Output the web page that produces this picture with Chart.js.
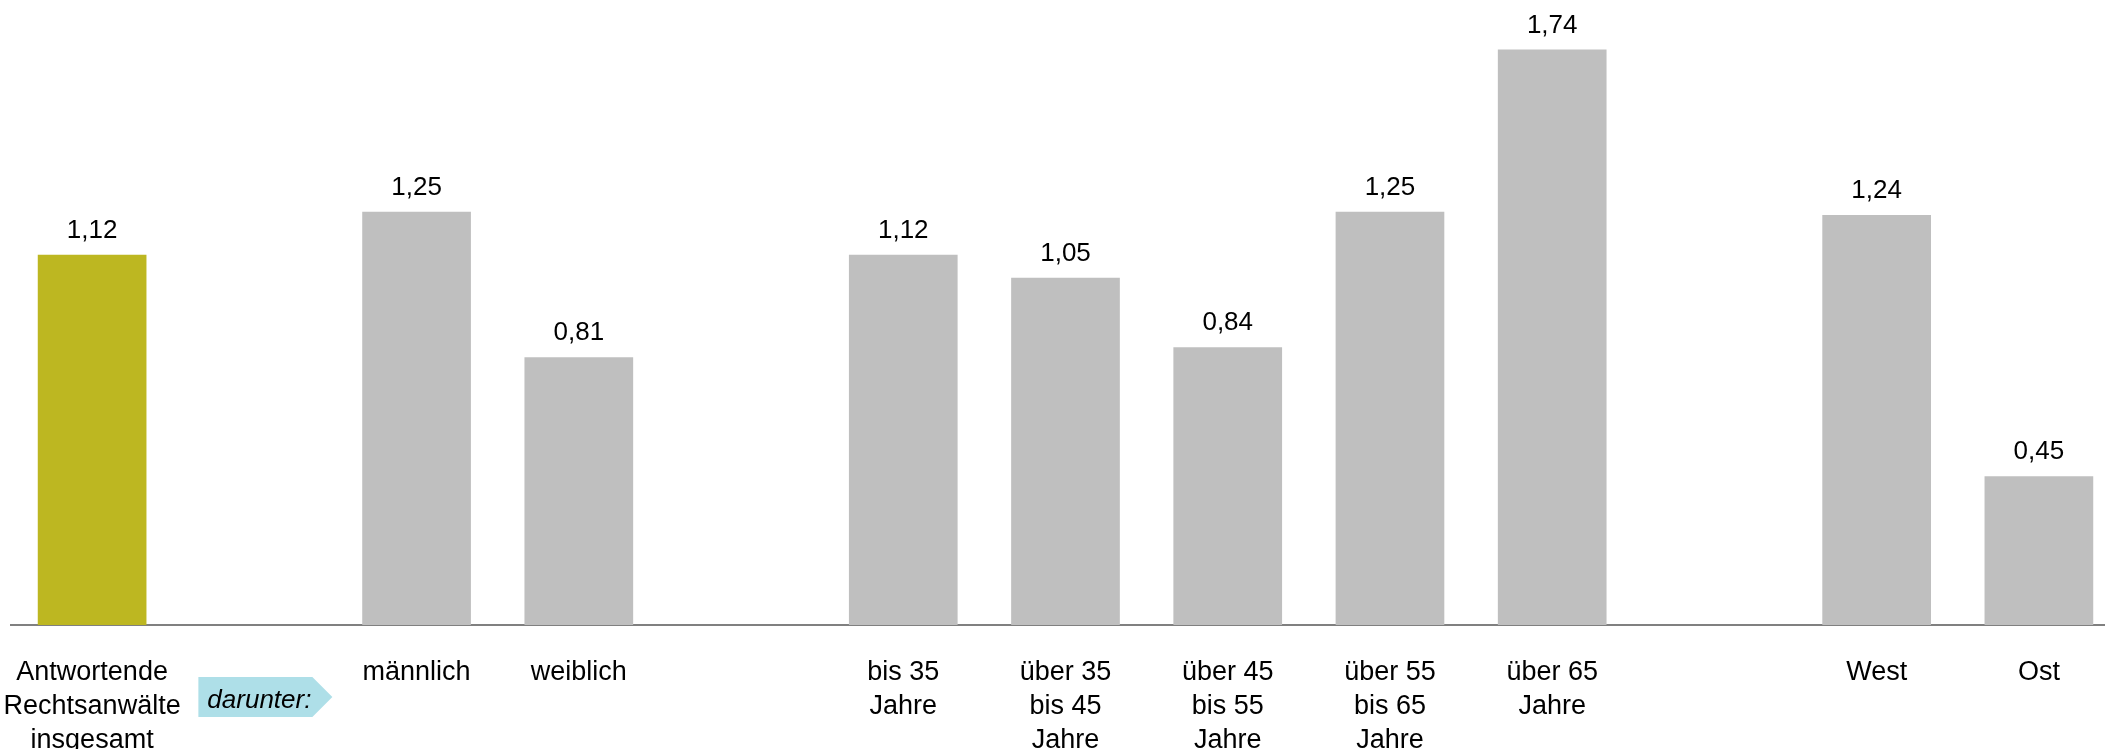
<!DOCTYPE html>
<html>
<head>
<meta charset="utf-8">
<script src="https://cdn.jsdelivr.net/npm/chart.js@4"></script>
<style>
  html, body { margin: 0; padding: 0; background: #fff; overflow: hidden; }
  #wrap { width: 2120px; height: 749px; }
</style>
</head>
<body>
<div id="wrap"><canvas id="barChart"></canvas></div>
<script>
// leere Einträge = Lücken zwischen den Gruppen
const kategorien = [
    ["Antwortende", "Rechtsanwälte", "insgesamt"],
    "",
    "männlich",
    "weiblich",
    "",
    ["bis 35", "Jahre"],
    ["über 35", "bis 45", "Jahre"],
    ["über 45", "bis 55", "Jahre"],
    ["über 55", "bis 65", "Jahre"],
    ["über 65", "Jahre"],
    "",
    "West",
    "Ost"
];
const werte = [1.12, null, 1.25, 0.81, null, 1.12, 1.05, 0.84, 1.25, 1.74, null, 1.24, 0.45];
const farben = ["#BDB721", null, "#BFBFBF", "#BFBFBF", null, "#BFBFBF", "#BFBFBF", "#BFBFBF", "#BFBFBF", "#BFBFBF", null, "#BFBFBF", "#BFBFBF"];
const hinweis = "darunter:";

const schrift = "'Liberation Sans', Arial, sans-serif";

const werteLabels = {
    id: 'werteLabels',
    afterDatasetsDraw(chart) {
        const c = chart.ctx;
        const meta = chart.getDatasetMeta(0);
        c.save();
        c.font = "26px " + schrift;
        c.fillStyle = "#000";
        c.textAlign = "center";
        c.textBaseline = "alphabetic";
        meta.data.forEach((bar, i) => {
            if (werte[i] == null) return;
            c.fillText(werte[i].toFixed(2).replace('.', ','), bar.x, bar.y - 17);
        });
        c.restore();
    }
};

const darunterPfeil = {
    id: 'darunterPfeil',
    afterDraw(chart) {
        const c = chart.ctx;
        const x0 = chart.scales.x.getPixelForTick(1) - 56;
        const y0 = 677;
        c.save();
        c.fillStyle = "#AEDFE8";
        c.beginPath();
        c.moveTo(x0, y0);
        c.lineTo(x0 + 114, y0);
        c.lineTo(x0 + 134, y0 + 20);
        c.lineTo(x0 + 114, y0 + 40);
        c.lineTo(x0, y0 + 40);
        c.closePath();
        c.fill();
        c.font = "italic 26px " + schrift;
        c.fillStyle = "#000";
        c.textAlign = "left";
        c.textBaseline = "alphabetic";
        c.fillText(hinweis, x0 + 9, y0 + 31);
        c.restore();
    }
};

const ctx = document.getElementById('barChart').getContext('2d');
new Chart(ctx, {
    type: 'bar',
    data: {
        labels: kategorien,
        datasets: [{
            data: werte,
            backgroundColor: farben,
            barPercentage: 0.67,
            categoryPercentage: 1
        }]
    },
    options: {
        responsive: true,
        maintainAspectRatio: false,
        animation: false,
        layout: { padding: { left: 11, right: 0, top: 0, bottom: 0 } },
        plugins: {
            legend: { display: false },
            tooltip: { enabled: false }
        },
        scales: {
            x: {
                grid: { display: false },
                border: { display: true, color: "#808080", width: 2 },
                ticks: {
                    color: "#000",
                    autoSkip: false,
                    maxRotation: 0,
                    padding: 23,
                    font: { family: schrift, size: 27, lineHeight: '34px' }
                },
                afterFit: (scale) => {
                    scale.height = 124;
                    scale.paddingLeft = 0;
                    scale.paddingRight = 0;
                }
            },
            y: {
                display: false,
                min: 0,
                max: 1.89
            }
        }
    },
    plugins: [werteLabels, darunterPfeil]
});
</script>
</body>
</html>
